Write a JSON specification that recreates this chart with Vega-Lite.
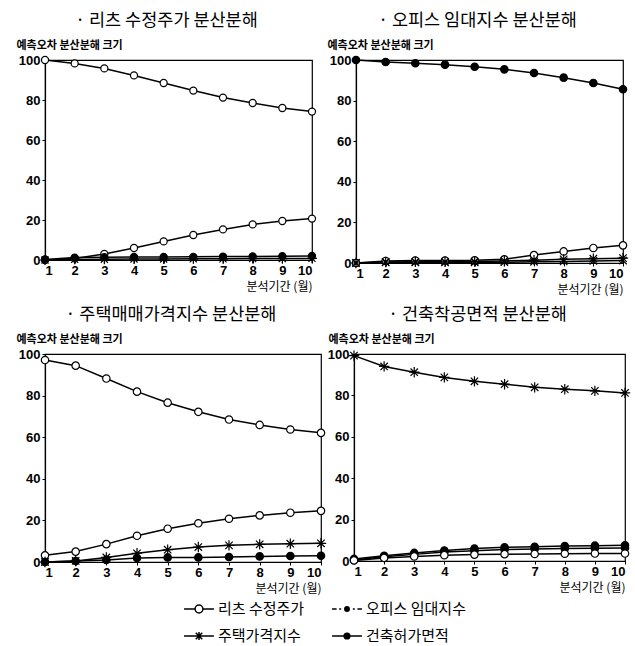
{
  "$schema": "https://vega.github.io/schema/vega-lite/v6.json",
  "padding": {"left": 15, "top": 10, "right": 0, "bottom": 0},
  "background": "white",
  "config": {
    "view": {"stroke": "black", "strokeWidth": 1.2},
    "font": "Noto Sans CJK KR",
    "title": {"font": "Noto Sans CJK KR", "fontSize": 17.5, "fontWeight": "normal", "color": "black", "offset": 10},
    "axis": {"labelFont": "Liberation Sans", "labelFontWeight": "bold", "labelFontSize": 13, "labelColor": "black", "domainColor": "black", "domainWidth": 1.2, "tickColor": "black", "tickSize": 3, "grid": false, "titleFont": "Noto Sans CJK KR", "titleFontWeight": "bold", "titleFontSize": 11, "titleColor": "black"},
    "axisY": {"titleAngle": 0, "titleAlign": "left", "titleBaseline": "bottom", "titleX": -29, "titleY": -10, "labelPadding": 2},
    "axisX": {"titleAlign": "right", "titleBaseline": "middle", "titleY": 26, "labelPadding": 1, "titleFontWeight": "normal", "titleFontSize": 12},
    "legend": {"padding": 0}
  },
  "data": {"values": [
    {"panel":"A","series":"리츠 수정주가","month":1,"value":100},{"panel":"A","series":"리츠 수정주가","month":2,"value":98.3},{"panel":"A","series":"리츠 수정주가","month":3,"value":95.8},{"panel":"A","series":"리츠 수정주가","month":4,"value":92.3},{"panel":"A","series":"리츠 수정주가","month":5,"value":88.5},{"panel":"A","series":"리츠 수정주가","month":6,"value":84.7},{"panel":"A","series":"리츠 수정주가","month":7,"value":81.2},{"panel":"A","series":"리츠 수정주가","month":8,"value":78.5},{"panel":"A","series":"리츠 수정주가","month":9,"value":76.0},{"panel":"A","series":"리츠 수정주가","month":10,"value":74.2},
    {"panel":"A","series":"건축허가면적","month":1,"value":0},{"panel":"A","series":"건축허가면적","month":2,"value":0.8},{"panel":"A","series":"건축허가면적","month":3,"value":3.0},{"panel":"A","series":"건축허가면적","month":4,"value":6.0},{"panel":"A","series":"건축허가면적","month":5,"value":9.3},{"panel":"A","series":"건축허가면적","month":6,"value":12.5},{"panel":"A","series":"건축허가면적","month":7,"value":15.3},{"panel":"A","series":"건축허가면적","month":8,"value":17.8},{"panel":"A","series":"건축허가면적","month":9,"value":19.5},{"panel":"A","series":"건축허가면적","month":10,"value":20.7},
    {"panel":"A","series":"오피스 임대지수","month":1,"value":0.3},{"panel":"A","series":"오피스 임대지수","month":2,"value":1.2},{"panel":"A","series":"오피스 임대지수","month":3,"value":1.4},{"panel":"A","series":"오피스 임대지수","month":4,"value":1.5},{"panel":"A","series":"오피스 임대지수","month":5,"value":1.5},{"panel":"A","series":"오피스 임대지수","month":6,"value":1.6},{"panel":"A","series":"오피스 임대지수","month":7,"value":1.7},{"panel":"A","series":"오피스 임대지수","month":8,"value":1.8},{"panel":"A","series":"오피스 임대지수","month":9,"value":1.9},{"panel":"A","series":"오피스 임대지수","month":10,"value":2.0},
    {"panel":"A","series":"주택가격지수","month":1,"value":0},{"panel":"A","series":"주택가격지수","month":2,"value":0.3},{"panel":"A","series":"주택가격지수","month":3,"value":0.4},{"panel":"A","series":"주택가격지수","month":4,"value":0.5},{"panel":"A","series":"주택가격지수","month":5,"value":0.5},{"panel":"A","series":"주택가격지수","month":6,"value":0.6},{"panel":"A","series":"주택가격지수","month":7,"value":0.6},{"panel":"A","series":"주택가격지수","month":8,"value":0.7},{"panel":"A","series":"주택가격지수","month":9,"value":0.7},{"panel":"A","series":"주택가격지수","month":10,"value":0.8},

    {"panel":"B","series":"오피스 임대지수","month":1,"value":100},{"panel":"B","series":"오피스 임대지수","month":2,"value":99.0},{"panel":"B","series":"오피스 임대지수","month":3,"value":98.4},{"panel":"B","series":"오피스 임대지수","month":4,"value":97.7},{"panel":"B","series":"오피스 임대지수","month":5,"value":96.7},{"panel":"B","series":"오피스 임대지수","month":6,"value":95.4},{"panel":"B","series":"오피스 임대지수","month":7,"value":93.6},{"panel":"B","series":"오피스 임대지수","month":8,"value":91.3},{"panel":"B","series":"오피스 임대지수","month":9,"value":88.7},{"panel":"B","series":"오피스 임대지수","month":10,"value":85.6},
    {"panel":"B","series":"리츠 수정주가","month":1,"value":0},{"panel":"B","series":"리츠 수정주가","month":2,"value":1.0},{"panel":"B","series":"리츠 수정주가","month":3,"value":1.2},{"panel":"B","series":"리츠 수정주가","month":4,"value":1.2},{"panel":"B","series":"리츠 수정주가","month":5,"value":1.3},{"panel":"B","series":"리츠 수정주가","month":6,"value":1.8},{"panel":"B","series":"리츠 수정주가","month":7,"value":3.9},{"panel":"B","series":"리츠 수정주가","month":8,"value":5.7},{"panel":"B","series":"리츠 수정주가","month":9,"value":7.4},{"panel":"B","series":"리츠 수정주가","month":10,"value":8.7},
    {"panel":"B","series":"주택가격지수","month":1,"value":0},{"panel":"B","series":"주택가격지수","month":2,"value":0.5},{"panel":"B","series":"주택가격지수","month":3,"value":0.6},{"panel":"B","series":"주택가격지수","month":4,"value":0.6},{"panel":"B","series":"주택가격지수","month":5,"value":0.7},{"panel":"B","series":"주택가격지수","month":6,"value":1.0},{"panel":"B","series":"주택가격지수","month":7,"value":1.4},{"panel":"B","series":"주택가격지수","month":8,"value":1.8},{"panel":"B","series":"주택가격지수","month":9,"value":2.1},{"panel":"B","series":"주택가격지수","month":10,"value":2.4},
    {"panel":"B","series":"건축허가면적","month":1,"value":0},{"panel":"B","series":"건축허가면적","month":2,"value":0.3},{"panel":"B","series":"건축허가면적","month":3,"value":0.3},{"panel":"B","series":"건축허가면적","month":4,"value":0.3},{"panel":"B","series":"건축허가면적","month":5,"value":0.3},{"panel":"B","series":"건축허가면적","month":6,"value":0.4},{"panel":"B","series":"건축허가면적","month":7,"value":0.6},{"panel":"B","series":"건축허가면적","month":8,"value":0.8},{"panel":"B","series":"건축허가면적","month":9,"value":1.0},{"panel":"B","series":"건축허가면적","month":10,"value":1.2},

    {"panel":"C","series":"주택가격지수","month":1,"value":97.1},{"panel":"C","series":"주택가격지수","month":2,"value":94.4},{"panel":"C","series":"주택가격지수","month":3,"value":88.2},{"panel":"C","series":"주택가격지수","month":4,"value":81.9},{"panel":"C","series":"주택가격지수","month":5,"value":76.6},{"panel":"C","series":"주택가격지수","month":6,"value":72.2},{"panel":"C","series":"주택가격지수","month":7,"value":68.5},{"panel":"C","series":"주택가격지수","month":8,"value":65.9},{"panel":"C","series":"주택가격지수","month":9,"value":63.7},{"panel":"C","series":"주택가격지수","month":10,"value":62.1},
    {"panel":"C","series":"리츠 수정주가","month":1,"value":3.2},{"panel":"C","series":"리츠 수정주가","month":2,"value":5.0},{"panel":"C","series":"리츠 수정주가","month":3,"value":8.6},{"panel":"C","series":"리츠 수정주가","month":4,"value":12.6},{"panel":"C","series":"리츠 수정주가","month":5,"value":16.0},{"panel":"C","series":"리츠 수정주가","month":6,"value":18.6},{"panel":"C","series":"리츠 수정주가","month":7,"value":20.8},{"panel":"C","series":"리츠 수정주가","month":8,"value":22.4},{"panel":"C","series":"리츠 수정주가","month":9,"value":23.7},{"panel":"C","series":"리츠 수정주가","month":10,"value":24.6},
    {"panel":"C","series":"건축허가면적","month":1,"value":0},{"panel":"C","series":"건축허가면적","month":2,"value":0.5},{"panel":"C","series":"건축허가면적","month":3,"value":2.2},{"panel":"C","series":"건축허가면적","month":4,"value":4.2},{"panel":"C","series":"건축허가면적","month":5,"value":5.9},{"panel":"C","series":"건축허가면적","month":6,"value":7.2},{"panel":"C","series":"건축허가면적","month":7,"value":8.0},{"panel":"C","series":"건축허가면적","month":8,"value":8.5},{"panel":"C","series":"건축허가면적","month":9,"value":8.8},{"panel":"C","series":"건축허가면적","month":10,"value":9.0},
    {"panel":"C","series":"오피스 임대지수","month":1,"value":0},{"panel":"C","series":"오피스 임대지수","month":2,"value":0.5},{"panel":"C","series":"오피스 임대지수","month":3,"value":1.0},{"panel":"C","series":"오피스 임대지수","month":4,"value":1.9},{"panel":"C","series":"오피스 임대지수","month":5,"value":2.2},{"panel":"C","series":"오피스 임대지수","month":6,"value":2.2},{"panel":"C","series":"오피스 임대지수","month":7,"value":2.4},{"panel":"C","series":"오피스 임대지수","month":8,"value":2.7},{"panel":"C","series":"오피스 임대지수","month":9,"value":2.9},{"panel":"C","series":"오피스 임대지수","month":10,"value":3.0},

    {"panel":"D","series":"건축허가면적","month":1,"value":99.2},{"panel":"D","series":"건축허가면적","month":2,"value":94.0},{"panel":"D","series":"건축허가면적","month":3,"value":91.2},{"panel":"D","series":"건축허가면적","month":4,"value":88.7},{"panel":"D","series":"건축허가면적","month":5,"value":86.8},{"panel":"D","series":"건축허가면적","month":6,"value":85.4},{"panel":"D","series":"건축허가면적","month":7,"value":83.9},{"panel":"D","series":"건축허가면적","month":8,"value":83.0},{"panel":"D","series":"건축허가면적","month":9,"value":82.2},{"panel":"D","series":"건축허가면적","month":10,"value":81.2},
    {"panel":"D","series":"주택가격지수","month":1,"value":1.0},{"panel":"D","series":"주택가격지수","month":2,"value":2.5},{"panel":"D","series":"주택가격지수","month":3,"value":3.9},{"panel":"D","series":"주택가격지수","month":4,"value":5.1},{"panel":"D","series":"주택가격지수","month":5,"value":6.0},{"panel":"D","series":"주택가격지수","month":6,"value":6.6},{"panel":"D","series":"주택가격지수","month":7,"value":6.9},{"panel":"D","series":"주택가격지수","month":8,"value":7.2},{"panel":"D","series":"주택가격지수","month":9,"value":7.4},{"panel":"D","series":"주택가격지수","month":10,"value":7.6},
    {"panel":"D","series":"오피스 임대지수","month":1,"value":0.5},{"panel":"D","series":"오피스 임대지수","month":2,"value":2.0},{"panel":"D","series":"오피스 임대지수","month":3,"value":3.2},{"panel":"D","series":"오피스 임대지수","month":4,"value":4.3},{"panel":"D","series":"오피스 임대지수","month":5,"value":5.0},{"panel":"D","series":"오피스 임대지수","month":6,"value":5.5},{"panel":"D","series":"오피스 임대지수","month":7,"value":5.8},{"panel":"D","series":"오피스 임대지수","month":8,"value":6.0},{"panel":"D","series":"오피스 임대지수","month":9,"value":6.2},{"panel":"D","series":"오피스 임대지수","month":10,"value":6.3},
    {"panel":"D","series":"리츠 수정주가","month":1,"value":0.3},{"panel":"D","series":"리츠 수정주가","month":2,"value":1.5},{"panel":"D","series":"리츠 수정주가","month":3,"value":2.2},{"panel":"D","series":"리츠 수정주가","month":4,"value":2.8},{"panel":"D","series":"리츠 수정주가","month":5,"value":3.1},{"panel":"D","series":"리츠 수정주가","month":6,"value":3.3},{"panel":"D","series":"리츠 수정주가","month":7,"value":3.4},{"panel":"D","series":"리츠 수정주가","month":8,"value":3.5},{"panel":"D","series":"리츠 수정주가","month":9,"value":3.6},{"panel":"D","series":"리츠 수정주가","month":10,"value":3.6}
  ]},
  "spacing": 8,
  "resolve": {"scale": {"shape": "independent", "fill": "independent", "stroke": "independent", "x": "independent", "y": "independent"}, "legend": {"shape": "independent", "fill": "independent", "stroke": "independent"}},
  "vconcat": [
    {
      "spacing": 6,
      "resolve": {"scale": {"shape": "independent", "fill": "independent", "x": "independent", "y": "independent"}},
      "hconcat": [
        {
          "width": 267, "height": 200,
          "title": {"text": "· 리츠 수정주가 분산분해", "dx": -12},
          "transform": [{"filter": "datum.panel === 'A'"}],
          "encoding": {
            "x": {"field": "month", "type": "quantitative", "scale": {"domain": [1, 10], "nice": false, "zero": false}, "axis": {"values": [1,2,3,4,5,6,7,8,9,10], "title": "분석기간 (월)", "titleX": 267}},
            "y": {"field": "value", "type": "quantitative", "scale": {"domain": [0, 100]}, "axis": {"values": [0,20,40,60,80,100], "title": "예측오차 분산분해 크기"}}
          },
          "layer": [
            {"mark": {"type": "line", "color": "black", "strokeWidth": 1.5}, "encoding": {"detail": {"field": "series"}}},
            {"mark": {"type": "point", "filled": true, "stroke": "black", "strokeWidth": 1.2, "size": 50, "opacity": 1},
             "encoding": {
               "shape": {"field": "series", "type": "nominal", "legend": null, "scale": {"domain": ["리츠 수정주가", "오피스 임대지수", "주택가격지수", "건축허가면적"], "range": ["circle", "circle", "M0,-1.4L0,1.4M-1.4,0L1.4,0M-1,-1L1,1M-1,1L1,-1", "circle"]}},
               "fill": {"field": "series", "type": "nominal", "legend": null, "scale": {"domain": ["리츠 수정주가", "오피스 임대지수", "주택가격지수", "건축허가면적"], "range": ["white", "black", "black", "white"]}}
             }}
          ]
        },
        {
          "width": 267, "height": 203,
          "title": {"text": "· 오피스 임대지수 분산분해", "dx": -12},
          "transform": [{"filter": "datum.panel === 'B'"}],
          "encoding": {
            "x": {"field": "month", "type": "quantitative", "scale": {"domain": [1, 10], "nice": false, "zero": false}, "axis": {"values": [1,2,3,4,5,6,7,8,9,10], "title": "분석기간 (월)", "titleX": 267}},
            "y": {"field": "value", "type": "quantitative", "scale": {"domain": [0, 100]}, "axis": {"values": [0,20,40,60,80,100], "title": "예측오차 분산분해 크기"}}
          },
          "layer": [
            {"mark": {"type": "line", "color": "black", "strokeWidth": 1.5}, "encoding": {"detail": {"field": "series"}}},
            {"mark": {"type": "point", "filled": true, "stroke": "black", "strokeWidth": 1.2, "size": 55, "opacity": 1},
             "encoding": {
               "shape": {"field": "series", "type": "nominal", "legend": null, "scale": {"domain": ["리츠 수정주가", "오피스 임대지수", "주택가격지수", "건축허가면적"], "range": ["circle", "circle", "M0,-1.4L0,1.4M-1.4,0L1.4,0M-1,-1L1,1M-1,1L1,-1", "M-1,-1L1,1M-1,1L1,-1"]}},
               "fill": {"field": "series", "type": "nominal", "legend": null, "scale": {"domain": ["리츠 수정주가", "오피스 임대지수", "주택가격지수", "건축허가면적"], "range": ["white", "black", "black", "black"]}}
             }}
          ]
        }
      ]
    },
    {
      "spacing": -2,
      "resolve": {"scale": {"shape": "independent", "fill": "independent", "stroke": "independent", "x": "independent", "y": "independent"}, "legend": {"shape": "independent", "fill": "independent", "stroke": "independent"}},
      "vconcat": [
        {
          "spacing": -4,
          "resolve": {"scale": {"shape": "independent", "fill": "independent", "x": "independent", "y": "independent"}},
          "hconcat": [
            {
              "width": 276, "height": 208,
              "title": {"text": "· 주택매매가격지수 분산분해", "dx": -12},
              "transform": [{"filter": "datum.panel === 'C'"}],
              "encoding": {
                "x": {"field": "month", "type": "quantitative", "scale": {"domain": [1, 10], "nice": false, "zero": false}, "axis": {"values": [1,2,3,4,5,6,7,8,9,10], "title": "분석기간 (월)", "titleX": 276}},
                "y": {"field": "value", "type": "quantitative", "scale": {"domain": [0, 100]}, "axis": {"values": [0,20,40,60,80,100], "title": "예측오차 분산분해 크기"}}
              },
              "layer": [
                {"mark": {"type": "line", "color": "black", "strokeWidth": 1.5}, "encoding": {"detail": {"field": "series"}}},
                {"mark": {"type": "point", "filled": true, "stroke": "black", "strokeWidth": 1.2, "size": 55, "opacity": 1},
                 "encoding": {
                   "shape": {"field": "series", "type": "nominal", "legend": null, "scale": {"domain": ["리츠 수정주가", "오피스 임대지수", "주택가격지수", "건축허가면적"], "range": ["circle", "circle", "circle", "M0,-1.4L0,1.4M-1.4,0L1.4,0M-1,-1L1,1M-1,1L1,-1"]}},
                   "fill": {"field": "series", "type": "nominal", "legend": null, "scale": {"domain": ["리츠 수정주가", "오피스 임대지수", "주택가격지수", "건축허가면적"], "range": ["white", "black", "white", "black"]}}
                 }}
              ]
            },
            {
              "width": 271, "height": 207,
              "title": {"text": "· 건축착공면적 분산분해", "dx": -12},
              "transform": [{"filter": "datum.panel === 'D'"}],
              "encoding": {
                "x": {"field": "month", "type": "quantitative", "scale": {"domain": [1, 10], "nice": false, "zero": false}, "axis": {"values": [1,2,3,4,5,6,7,8,9,10], "title": "분석기간 (월)", "titleX": 271}},
                "y": {"field": "value", "type": "quantitative", "scale": {"domain": [0, 100]}, "axis": {"values": [0,20,40,60,80,100], "title": "예측오차 분산분해 크기", "titleX": -26}}
              },
              "layer": [
                {"mark": {"type": "line", "color": "black", "strokeWidth": 1.5}, "encoding": {"detail": {"field": "series"}}},
                {"mark": {"type": "point", "filled": true, "stroke": "black", "strokeWidth": 1.2, "size": 55, "opacity": 1},
                 "encoding": {
                   "shape": {"field": "series", "type": "nominal", "legend": null, "scale": {"domain": ["리츠 수정주가", "오피스 임대지수", "주택가격지수", "건축허가면적"], "range": ["circle", "circle", "circle", "M0,-1.4L0,1.4M-1.4,0L1.4,0M-1,-1L1,1M-1,1L1,-1"]}},
                   "fill": {"field": "series", "type": "nominal", "legend": null, "scale": {"domain": ["리츠 수정주가", "오피스 임대지수", "주택가격지수", "건축허가면적"], "range": ["white", "black", "black", "black"]}}
                 }}
              ]
            }
          ]
        },
        {
          "width": 600, "height": 20,
          "view": {"stroke": "transparent"},
          "transform": [{"filter": "datum.month > 100"}],
          "mark": {"type": "point", "filled": true, "opacity": 1},
          "encoding": {
            "shape": {"field": "series", "type": "nominal",
              "scale": {"domain": ["리츠 수정주가", "오피스 임대지수", "주택가격지수", "건축허가면적"], "range": [
                "M-1.15,0L-0.3,0M0.3,0L1.15,0M-0.3,0A0.3,0.3,0,1,1,0.3,0A0.3,0.3,0,1,1,-0.3,0Z",
                "M-1.15,0L-0.8,0M-0.6,0L-0.45,0M0.45,0L0.6,0M0.8,0L1.15,0M-0.17,0A0.17,0.17,0,1,1,0.17,0A0.17,0.17,0,1,1,-0.17,0Z",
                "M-1.15,0L1.15,0M0,-0.3L0,0.3M-0.25,-0.25L0.25,0.25M-0.25,0.25L0.25,-0.25",
                "M-1.15,0L1.15,0M-0.22,0A0.22,0.22,0,1,1,0.22,0A0.22,0.22,0,1,1,-0.22,0Z"]},
              "legend": {"orient": "none", "legendX": 140, "legendY": 0, "columns": 2, "direction": "horizontal", "title": null, "symbolSize": 676, "symbolStrokeWidth": 1.5, "labelFont": "Noto Sans CJK KR", "labelFontSize": 15, "labelColor": "black", "labelOffset": 5, "labelLimit": 300, "columnPadding": 24, "rowPadding": 5}},
            "fill": {"field": "series", "type": "nominal",
              "scale": {"domain": ["리츠 수정주가", "오피스 임대지수", "주택가격지수", "건축허가면적"], "range": ["white", "black", "black", "black"]},
              "legend": {"orient": "none", "legendX": 140, "legendY": 0, "columns": 2, "direction": "horizontal", "title": null, "symbolSize": 676, "symbolStrokeWidth": 1.5, "labelFont": "Noto Sans CJK KR", "labelFontSize": 15, "labelColor": "black", "labelOffset": 5, "labelLimit": 300, "columnPadding": 24, "rowPadding": 5}},
            "stroke": {"field": "series", "type": "nominal",
              "scale": {"domain": ["리츠 수정주가", "오피스 임대지수", "주택가격지수", "건축허가면적"], "range": ["black", "black", "black", "black"]},
              "legend": {"orient": "none", "legendX": 140, "legendY": 0, "columns": 2, "direction": "horizontal", "title": null, "symbolSize": 676, "symbolStrokeWidth": 1.5, "labelFont": "Noto Sans CJK KR", "labelFontSize": 15, "labelColor": "black", "labelOffset": 5, "labelLimit": 300, "columnPadding": 24, "rowPadding": 5}}
          }
        }
      ]
    }
  ]
}
